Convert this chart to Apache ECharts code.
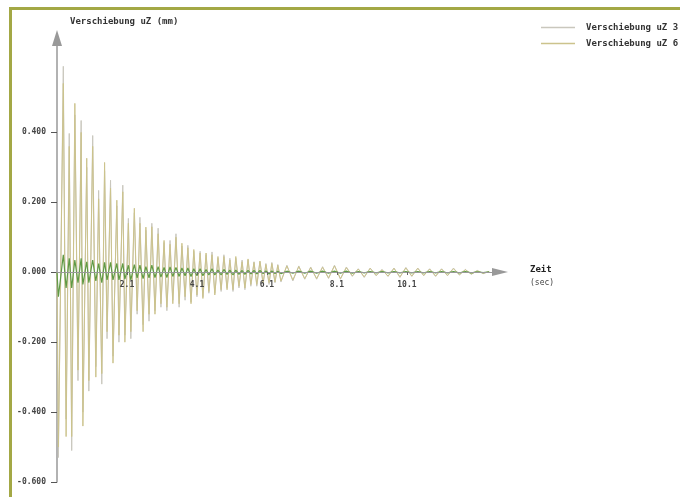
<!DOCTYPE html>
<html>
<head>
<meta charset="utf-8">
<script src="https://cdn.jsdelivr.net/npm/echarts@6/dist/echarts.min.js"></script>
<style>html,body{margin:0;padding:0;background:#fff}#c{width:680px;height:497px}</style>
</head>
<body>
<div id="c"></div>
<script>
// time axis (sec, offset from 0.1 s start)
var time = [0.00,0.04,0.18,0.26,0.35,0.42,0.51,0.60,0.69,0.74,0.85,0.91,1.02,1.11,1.19,1.28,1.36,1.43,1.53,1.60,
  1.71,1.77,1.88,1.94,2.04,2.11,2.21,2.29,2.37,2.46,2.54,2.63,2.71,2.80,2.89,2.97,3.06,3.14,3.23,3.31,
  3.40,3.49,3.57,3.66,3.74,3.83,3.91,4.00,4.09,4.17,4.26,4.34,4.43,4.51,4.60,4.69,4.77,4.86,4.94,5.03,
  5.11,5.20,5.29,5.37,5.46,5.54,5.63,5.71,5.80,5.89,5.97,6.06,6.14,6.23,6.31,6.40,6.57,6.74,6.91,7.08,
  7.25,7.42,7.59,7.76,7.93,8.10,8.27,8.44,8.61,8.78,8.95,9.12,9.29,9.46,9.63,9.80,9.97,10.14,10.31,10.48,
  10.65,10.82,10.99,11.16,11.33,11.50,11.67,11.84,12.01,12.18,12.35];
var uz3 = [0,-0.53,0.589,-0.42,0.397,-0.51,0.45,-0.31,0.434,-0.40,0.30,-0.34,0.391,-0.27,0.234,-0.32,0.29,-0.19,0.263,-0.24,
  0.19,-0.20,0.249,-0.18,0.154,-0.19,0.17,-0.12,0.157,-0.15,0.12,-0.14,0.14,-0.11,0.126,-0.10,0.085,-0.11,0.091,-0.08,
  0.11,-0.10,0.075,-0.08,0.077,-0.085,0.06,-0.07,0.06,-0.07,0.05,-0.06,0.058,-0.06,0.04,-0.055,0.05,-0.045,0.04,-0.055,
  0.04,-0.045,0.035,-0.05,0.035,-0.04,0.03,-0.04,0.03,-0.035,0.025,-0.035,0.028,-0.03,0.022,-0.028,0.02,-0.025,0.018,-0.02,
  0.015,-0.02,0.016,-0.018,0.02,-0.02,0.015,-0.012,0.01,-0.015,0.012,-0.01,0.008,-0.012,0.012,-0.015,0.014,-0.012,0.012,-0.01,
  0.01,-0.012,0.01,-0.01,0.012,-0.008,0.008,-0.006,0.005,-0.004,0.002];
var uz6 = [0,-0.50,0.54,-0.47,0.36,-0.47,0.483,-0.28,0.40,-0.44,0.326,-0.31,0.36,-0.30,0.21,-0.29,0.314,-0.17,0.24,-0.26,
  0.206,-0.18,0.23,-0.20,0.14,-0.17,0.183,-0.11,0.14,-0.17,0.129,-0.12,0.13,-0.12,0.11,-0.09,0.091,-0.10,0.08,-0.09,
  0.10,-0.09,0.083,-0.07,0.07,-0.09,0.065,-0.065,0.055,-0.075,0.055,-0.055,0.05,-0.065,0.045,-0.05,0.045,-0.05,0.035,-0.05,
  0.045,-0.04,0.03,-0.045,0.038,-0.035,0.028,-0.035,0.032,-0.03,0.022,-0.03,0.025,-0.028,0.02,-0.025,0.018,-0.022,0.016,-0.018,
  0.013,-0.018,0.014,-0.016,0.018,-0.018,0.013,-0.01,0.009,-0.013,0.011,-0.009,0.007,-0.011,0.011,-0.013,0.012,-0.011,0.011,-0.009,
  0.009,-0.011,0.009,-0.009,0.01,-0.007,0.007,-0.005,0.004,-0.003,0.002];
var uz9 = [0,-0.07,0.05,-0.045,0.04,-0.045,0.035,-0.03,0.04,-0.035,0.03,-0.03,0.035,-0.025,0.025,-0.03,0.028,-0.022,0.028,-0.022,
  0.025,-0.022,0.025,-0.02,0.02,-0.022,0.022,-0.016,0.02,-0.018,0.016,-0.016,0.02,-0.015,0.016,-0.014,0.014,-0.015,0.015,-0.012,
  0.014,-0.012,0.012,-0.01,0.012,-0.012,0.01,-0.01,0.01,-0.01,0.008,-0.008,0.01,-0.008,0.006,-0.008,0.008,-0.006,0.006,-0.008,
  0.006,-0.006,0.005,-0.006,0.005,-0.005,0.005,-0.005,0.005,-0.004,0.004,-0.005,0.004,-0.004,0.003,-0.004,0.003,-0.003,0.003,-0.003,
  0.003,-0.003,0.003,-0.003,0.003,-0.003,0.003,-0.003,0.002,-0.002,0.002,-0.002,0.002,-0.002,0.002,-0.002,0.002,-0.002,0.002,-0.002,
  0.002,-0.002,0.002,-0.002,0.002,-0.002,0.002,-0.002,0.001,-0.001,0.001];
var xTicks = [2, 4, 6, 8, 10];
var yTicks = [-0.6, -0.4, -0.2, 0, 0.2, 0.4];
var names = ['Verschiebung uZ 3', 'Verschiebung uZ 6'];

function pairs(v) { return time.map(function (t, i) { return [t, v[i]]; }); }

var font = 'DejaVu Sans Mono';
var chart = echarts.init(document.getElementById('c'));
chart.setOption({
  animation: false,
  backgroundColor: '#fff',
  textStyle: { fontFamily: font },
  graphic: [
    { type: 'rect', shape: { x: 9, y: 7, width: 671, height: 3 }, style: { fill: '#a3a845' }, z: 100 },
    { type: 'rect', shape: { x: 9, y: 7, width: 3, height: 490 }, style: { fill: '#a3a845' }, z: 100 }
  ],
  legend: {
    data: names, orient: 'vertical', left: 536, top: 18, icon: 'rect', itemWidth: 34, itemHeight: 1.5, itemGap: 7,
    textStyle: { fontFamily: font, fontSize: 9, fontWeight: 'bold', color: '#333', padding: [0, 0, 0, 6] }
  },
  grid: { left: 57, right: 180, top: 38, bottom: 15 },
  xAxis: {
    type: 'value', min: 0, max: 12.66, offset: -210, z: 10,
    name: '{a|Zeit}\n{b|(sec)}', nameLocation: 'end', nameGap: 30,
    nameTextStyle: { align: 'left', verticalAlign: 'middle', padding: [8, 0, 0, 0],
      rich: { a: { fontFamily: font, fontSize: 9, fontWeight: 'bold', color: '#222', lineHeight: 14 },
              b: { fontFamily: font, fontSize: 8, color: '#444', lineHeight: 12 } } },
    axisLine: { onZero: false, symbol: ['none', 'triangle'], symbolSize: [8, 16],
      lineStyle: { color: '#999', width: 1 } },
    axisTick: { customValues: xTicks, length: 3, inside: false, lineStyle: { color: '#666' } },
    axisLabel: { customValues: xTicks, formatter: function (v) { return (v + 0.1).toFixed(1); },
      fontFamily: font, fontSize: 8, fontWeight: 'bold', color: '#444', margin: 9 },
    splitLine: { show: false }
  },
  yAxis: {
    type: 'value', min: -0.6, max: 0.67,
    name: 'Verschiebung uZ (mm)', nameLocation: 'end', nameGap: 12,
    nameTextStyle: { align: 'left', padding: [0, 0, 0, 13], fontFamily: font, fontSize: 9, fontWeight: 'bold', color: '#333' },
    axisLine: { show: true, symbol: ['none', 'triangle'], symbolSize: [10, 16],
      lineStyle: { color: '#999', width: 1.5 } },
    axisTick: { show: true, customValues: yTicks, length: 6, lineStyle: { color: '#555' } },
    axisLabel: { customValues: yTicks, formatter: function (v) { return v.toFixed(3); },
      fontFamily: font, fontSize: 8, fontWeight: 'bold', color: '#444', margin: 11 },
    splitLine: { show: false }
  },
  series: [
    { name: names[0], type: 'line', data: pairs(uz3), symbol: 'none', color: '#c9c7bd',
      lineStyle: { width: 1, color: '#c9c7bd' } },
    { name: names[1], type: 'line', data: pairs(uz6), symbol: 'none', color: '#ccc38c',
      lineStyle: { width: 1, color: '#ccc38c' } },
    { name: 'Verschiebung uZ 9', type: 'line', data: pairs(uz9), symbol: 'none', color: '#5f9a45',
      lineStyle: { width: 1.2, color: '#5f9a45' } }
  ]
});
</script>
</body>
</html>
